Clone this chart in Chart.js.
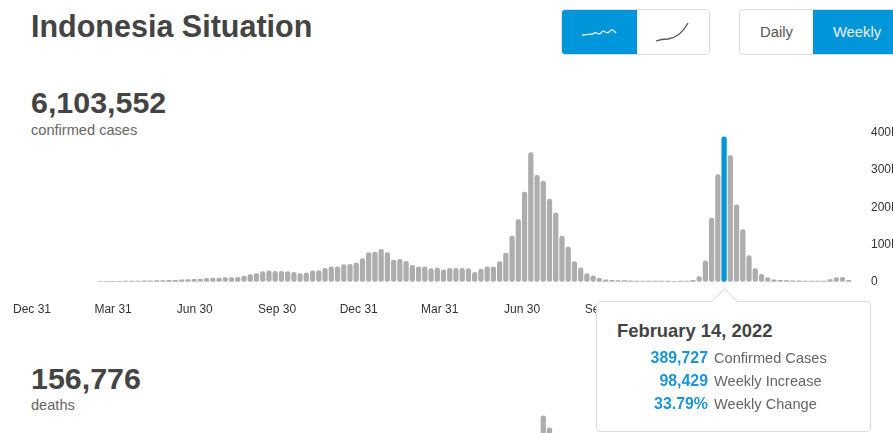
<!DOCTYPE html>
<html>
<head>
<meta charset="utf-8">
<title>Indonesia Situation</title>
<script src="https://cdn.jsdelivr.net/npm/chart.js@4"></script>
<style>
html, body { margin: 0; height: 100%; overflow: hidden; background: #fff; font-family: "Liberation Sans", Arial, sans-serif; }
#page { position: relative; width: 893px; height: 433px; overflow: hidden; }
h1, .num, .sub, .canvasBox, .btns, #tip { position: absolute; margin: 0; }
h1 { left: 31px; top: 9px; font-size: 30.5px; line-height: 34px; color: #444; }
.num { left: 31px; font-size: 30.4px; line-height: 34px; font-weight: bold; color: #444; }
.sub { left: 31px; font-size: 14.6px; line-height: 16px; color: #666; }
.canvasBox { left: 0; width: 920px; }
.btns { top: 9px; height: 46px; display: flex; box-sizing: border-box; border: 1px solid #ddd; border-radius: 4px; overflow: hidden; }
.btns div { display: flex; align-items: center; justify-content: center; font-size: 14.8px; color: #555; }
.btns .on { background: #0096d9; color: #eef; }
#tip { left: 596px; top: 301px; width: 275px; height: 131px; box-sizing: border-box; background: #fff; border: 1px solid #ddd; border-radius: 4px; }
#tip .arrow { position: absolute; left: 118px; top: -10px; width: 18px; height: 18px; background: #fff; border-left: 1px solid #ddd; border-top: 1px solid #ddd; transform: rotate(45deg); }
#tip h3 { position: absolute; left: 20px; top: 18px; margin: 0; font-size: 18.4px; line-height: 22px; color: #444; }
#tip .row { position: absolute; left: 0; width: 273px; font-size: 14.6px; line-height: 18px; color: #666; }
#tip .row b { display: inline-block; width: 111px; text-align: right; margin-right: 6px; font-size: 15.9px; color: #1a96d8; }
</style>
</head>
<body>
<div id="page">
  <h1>Indonesia Situation</h1>
  <div class="btns" style="left:561px;width:149px">
    <div class="on" style="width:75px">
      <svg width="36" height="12"><path d="M1 9 C6 9 8 8 12 8 C15 4 17 10 20 7 C23 2 25 9 28 6 C30 3 32 3 35 7" fill="none" stroke="#e8f4fb" stroke-width="1.3"/></svg>
    </div>
    <div style="width:73px">
      <svg width="36" height="24"><path d="M1 21 C6 19 9 19 13 19 C21 18 27 14 33 3" fill="none" stroke="#555" stroke-width="1.3"/></svg>
    </div>
  </div>
  <div class="btns" style="left:739px;width:170px">
    <div style="width:73px">Daily</div>
    <div class="on" style="width:88px">Weekly</div>
  </div>

  <div class="num" style="top:85px">6,103,552</div>
  <div class="sub" style="top:122px">confirmed cases</div>
  <div class="canvasBox" style="top:120px;height:200px"><canvas id="casesChart"></canvas></div>

  <div class="num" style="top:361px">156,776</div>
  <div class="sub" style="top:397px">deaths</div>
  <div class="canvasBox" style="top:398px;height:200px"><canvas id="deathsChart"></canvas></div>

  <div id="tip">
    <div class="arrow"></div>
    <h3>February 14, 2022</h3>
    <div class="row" style="top:47px"><b>389,727</b>Confirmed Cases</div>
    <div class="row" style="top:70px"><b>98,429</b>Weekly Increase</div>
    <div class="row" style="top:93px"><b>33.79%</b>Weekly Change</div>
  </div>
</div>
<script>
// Casos por semana, a partir da semana de 30 dez 2019 (null = sem barra)
const casosSemana = [
    null, null, null, null, null, null, null, null, null, null, null,
    500, 800, 1000, 1200, 1500, 1800, 2000, 2300, 2500, 2800, 3200, 3500,
    4000, 5000, 6000, 6500, 7000, 9000, 9500, 10000, 11000, 11000, 11500,
    15000, 19000, 22000, 27000, 29000, 28000, 28000, 27000, 25000,
    22000, 24000, 29000, 30000, 36000, 40000, 40000, 46000, 47000, 51000,
    62000, 78000, 80000, 87000, 78000, 58000, 60000, 55000, 44000, 40000,
    40000, 35000, 37000, 32000, 36000, 36000, 36000, 35000, 25000, 34000,
    40000, 40000, 54000, 77000, 123000, 167000, 241000, 347000, 286000, 271000,
    222000, 185000, 123000, 93000, 54000, 37000, 22000, 16000, 9000,
    5000, 4000, 3000, 3000, 2500, 2000, 2000, 2000, 1500, 1500, 1500, 1200,
    1500, 2000, 3500, 14000, 56000, 171000, 288000, 389727, 339000, 207000,
    140000, 70000, 35000, 20000, 11000, 5000, 4000, 3000, 2500, 2200, 2000,
    2000, 2000, 2000, 6000, 11000, 12000, 4000
];
// Mortes por semana: so o pico aparece acima do fim da pagina
const mortesSemana = [];
mortesSemana[79] = 4000;
mortesSemana[80] = 6500;
mortesSemana[81] = 8500;
mortesSemana[82] = 11620;
mortesSemana[83] = 10650;
mortesSemana[84] = 8000;

const semanaDestaque = 111;
const marcasSemana = [0, 13, 26.1, 39.3, 52.4, 65.4, 78.6, 91.7, 104.8, 117.9];
const marcasTexto = ['Dec 31', 'Mar 31', 'Jun 30', 'Sep 30', 'Dec 31', 'Mar 31', 'Jun 30', 'Sep 30', 'Dec 31', 'Mar 31'];
const casosTicks = [0, 100000, 200000, 300000, 400000];
const mortesTicks = [0, 4000, 8000];

const cinza = '#aeadad';
const azul = '#0096d9';

function formatarK(valor) {
    return valor === 0 ? '0' : (valor / 1000) + 'K';
}

function criarGrafico(id, valores, ticksY, maxY, topo) {
    const ctx = document.getElementById(id);
    return new Chart(ctx, {
        type: 'bar',
        data: {
            datasets: [{
                data: valores.map((y, x) => ({ x: x, y: y })).filter(p => p.y != null),
                backgroundColor: c => (id === 'casesChart' && c.raw && c.raw.x === semanaDestaque) ? azul : cinza,
                barThickness: 4.6,
                borderRadius: 2.3,
                borderSkipped: false
            }]
        },
        options: {
            responsive: false,
            animation: false,
            layout: { padding: { top: topo, left: 0, right: 0, bottom: 0 } },
            plugins: { legend: { display: false }, tooltip: { enabled: false } },
            scales: {
                x: {
                    type: 'linear',
                    offset: false,
                    min: -5.13,
                    max: 132.8,
                    grid: { display: false },
                    border: { display: false },
                    afterBuildTicks: axis => { axis.ticks = marcasSemana.map(v => ({ value: v })); },
                    afterFit: axis => { axis.height = 38.3; },
                    ticks: {
                        autoSkip: false,
                        maxRotation: 0,
                        padding: 13,
                        color: '#333',
                        font: { family: '"Liberation Sans"', size: 12 },
                        callback: (v, i) => marcasTexto[i]
                    }
                },
                y: {
                    position: 'right',
                    min: 0,
                    max: maxY,
                    afterBuildTicks: axis => { axis.ticks = ticksY.map(v => ({ value: v })); },
                    afterFit: axis => { axis.width = 60; },
                    grid: { display: false },
                    border: { display: false },
                    ticks: {
                        padding: 3,
                        color: '#333',
                        font: { family: '"Liberation Sans"', size: 12 },
                        callback: formatarK
                    }
                }
            }
        }
    });
}

document.getElementById('casesChart').width = 920;
document.getElementById('casesChart').height = 200;
document.getElementById('deathsChart').width = 920;
document.getElementById('deathsChart').height = 200;
criarGrafico('casesChart', casosSemana, casosTicks, 400000, 13);
criarGrafico('deathsChart', mortesSemana, mortesTicks, 12000, 13);
</script>
</body>
</html>
